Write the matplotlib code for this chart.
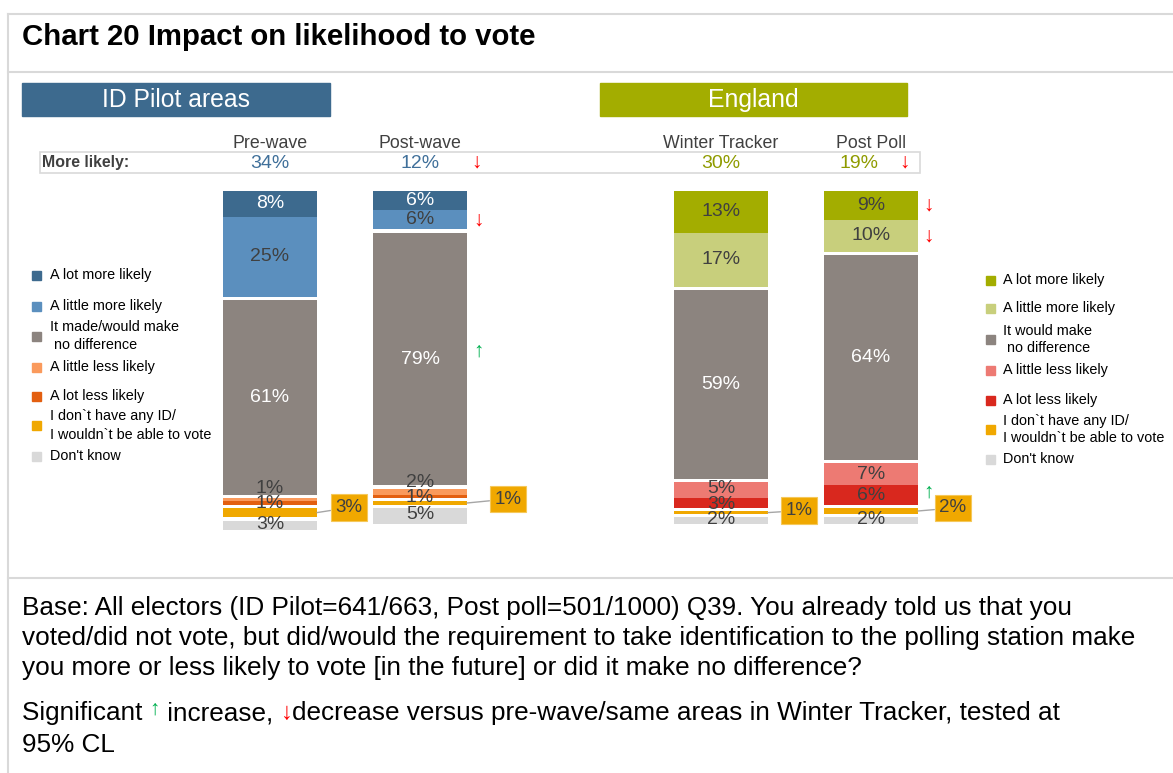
import matplotlib
matplotlib.use('Agg')
import matplotlib.pyplot as plt
from matplotlib.patches import Rectangle
from matplotlib.lines import Line2D

plt.rcParams['font.family'] = ['Liberation Sans', 'DejaVu Sans']

# data
bars = ['Pre-wave', 'Post-wave', 'Winter Tracker', 'Post Poll']
more_likely = ['34%', '12%', '30%', '19%']
a_lot_more = [8, 6, 13, 9]
little_more = [25, 6, 17, 10]
no_diff = [61, 79, 59, 64]
little_less = [1, 2, 5, 7]
a_lot_less = [1, 1, 3, 6]
no_id = [3, 1, 1, 2]
dont_know = [3, 5, 2, 2]

left_labels = ['A lot more likely', 'A little more likely', 'It made/would make\n no difference',
               'A little less likely', 'A lot less likely',
               'I don`t have any ID/\nI wouldn`t be able to vote', "Don't know"]
right_labels = ['A lot more likely', 'A little more likely', 'It would make\n no difference',
                'A little less likely', 'A lot less likely',
                'I don`t have any ID/\nI wouldn`t be able to vote', "Don't know"]

# significance: (bar, segment) -> arrow
sig_marks = {(1, 1): 'down', (1, 2): 'up', (3, 0): 'down', (3, 1): 'down', (3, 4): 'up'}
sig_header = {1: 'down', 3: 'down'}

left_cols = ['#3d6a8e', '#5b8fbe', '#8c847f', '#fa9a5c', '#e35f10', '#f0a800', '#d9d9d9']
right_cols = ['#a3ad00', '#c8cf7c', '#8c847f', '#ed7a73', '#d9281e', '#f0a800', '#d9d9d9']
RED = '#ff0000'
GREEN = '#00b050'
DARK = '#404040'
FRAME = '#d9d9d9'

segments = [a_lot_more, little_more, no_diff, little_less, a_lot_less, no_id, dont_know]
gap_after = [False, True, True, False, True, True, False]

xpos = [270, 420, 721, 871]
bar_w = 94
W, H = 1173, 773

fig = plt.figure(figsize=(W / 100, H / 100), dpi=100)
ov = fig.add_axes([0, 0, 1, 1])
ov.set_xlim(0, W)
ov.set_ylim(H, 0)
ov.axis('off')

# frame lines
for y in [14, 72, 578]:
    ov.add_line(Line2D([8, W], [y, y], color=FRAME, lw=1.5))
ov.add_line(Line2D([8, 8], [14, H], color=FRAME, lw=1.5))

ov.text(22, 37, 'Chart 20 Impact on likelihood to vote', fontsize=21.2, fontweight='bold',
        va='center', ha='left', color='black')

# section headers
ov.add_patch(Rectangle((22, 83), 308, 33, color='#3d6a8e'))
ov.text(176, 100, 'ID Pilot areas', color='white', fontsize=17.8, ha='center', va='center')
ov.add_patch(Rectangle((600, 83), 307, 33, color='#a3ad00'))
ov.text(753, 100, 'England', color='white', fontsize=17.8, ha='center', va='center')

# column headers and "More likely" row
for i, name in enumerate(bars):
    ov.text(xpos[i], 143, name, fontsize=12.8, color=DARK, ha='center', va='center')
ov.add_patch(Rectangle((40, 152), 880, 21, fill=False, edgecolor=FRAME, lw=1.2))
ov.text(42, 163, 'More likely:', fontsize=11.4, fontweight='bold', color=DARK, va='center')
ml_cols = ['#40709a', '#40709a', '#8f9b00', '#8f9b00']
ml_dx = [0, 0, 0, -12]
for i, v in enumerate(more_likely):
    ov.text(xpos[i] + ml_dx[i], 163, v, fontsize=14, color=ml_cols[i], ha='center', va='center')
arrow_hx = {1: 477, 3: 904}
for i, d in sig_header.items():
    ov.text(arrow_hx[i], 162, '↓' if d == 'down' else '↑', fontsize=15,
            color=RED if d == 'down' else GREEN, ha='center', va='center')

# bars
bx = fig.add_axes([0, 1 - (191 + 3.2 * 110) / H, 1, 3.2 * 110 / H])
bx.set_xlim(0, W)
bx.set_ylim(110, 0)
bx.axis('off')

label_nudge = {(0, 3): -3.4, (0, 4): 0.3, (1, 3): -3.0, (1, 4): 0.2,
               (2, 3): -0.6, (2, 4): 0.4,
               (0, 6): -0.4, (1, 6): -0.4, (2, 6): -0.4, (3, 6): -0.3}
white_text = {0, 2}
callout_off = [(32, 5), (41, 4), (31, 2), (35, 3)]

for b in range(len(bars)):
    cols = left_cols if b < 2 else right_cols
    bottom = 0.0
    for s, seg in enumerate(segments):
        v = seg[b]
        bx.bar(xpos[b], v, width=bar_w, bottom=bottom, color=cols[s], linewidth=0)
        cy = bottom + v / 2
        if s == 5:
            bx.annotate(f'{v}%', xy=(xpos[b] + bar_w / 2, cy), xytext=callout_off[b],
                        textcoords='offset pixels', fontsize=13.5, color=DARK,
                        ha='center', va='center',
                        bbox=dict(boxstyle='square,pad=0.25', fc='#f0a800', ec='#f5c85a', lw=0.8),
                        arrowprops=dict(arrowstyle='-', color='#a6a6a6', lw=1,
                                        shrinkA=0, shrinkB=0))
        else:
            tc = 'white' if (s in white_text and b < 2) or (s == 2) else DARK
            if b >= 2 and s == 0:
                tc = DARK
            bx.text(xpos[b], cy + label_nudge.get((b, s), 0), f'{v}%', fontsize=14,
                    color=tc, ha='center', va='center')
        if (b, s) in sig_marks:
            d = sig_marks[(b, s)]
            dy = -2.5 if d == 'up' and s == 2 else (-1 if d == 'up' else 0)
            bx.text(xpos[b] + bar_w / 2 + 11, cy + dy, '↓' if d == 'down' else '↑',
                    fontsize=15, color=RED if d == 'down' else GREEN, ha='center', va='center')
        bottom += v
        if gap_after[s]:
            bottom += 1.0

# legends
left_rows = [275, 306, (327, 345), 367, 396, (416, 435), 456]
right_rows = [280, 308, (331, 348), 370, 400, (421, 438), 459]


def draw_legend(x_sq, x_txt, rows, labels, cols):
    for lab, row, c in zip(labels, rows, cols):
        if isinstance(row, tuple):
            lines = lab.split('\n')
            ysq = (row[0] + row[1]) / 2
            for ln, yy in zip(lines, row):
                ov.text(x_txt, yy, ln, fontsize=10.4, color='black', va='center')
        else:
            ysq = row
            ov.text(x_txt, row, lab, fontsize=10.4, color='black', va='center')
        ov.add_patch(Rectangle((x_sq, ysq - 4.5), 9, 9, color=c))


draw_legend(32, 50, left_rows, left_labels, left_cols)
draw_legend(986, 1003, right_rows, right_labels, right_cols)

# footnotes
FS = 18.8
foot = ['Base: All electors (ID Pilot=641/663, Post poll=501/1000) Q39. You already told us that you',
        'voted/did not vote, but did/would the requirement to take identification to the polling station make',
        'you more or less likely to vote [in the future] or did it make no difference?']
for i, ln in enumerate(foot):
    ov.text(22, 608 + 30 * i, ln, fontsize=FS, color='black', va='center')

fig.canvas.draw()
r = fig.canvas.get_renderer()


def width_of(s, **kw):
    t = ov.text(0, 0, s + '|', **kw)
    t2 = ov.text(0, 0, '|', **kw)
    w = t.get_window_extent(r).width - t2.get_window_extent(r).width
    t.remove()
    t2.remove()
    return w


pieces = [('Significant ', 'black', FS), ('↑', GREEN, 15), (' increase, ', 'black', FS), ('↓', RED, 17),
          ('decrease versus pre-wave/same areas in Winter Tracker, tested at', 'black', FS)]
x = 22
for s, c, fs in pieces:
    kw = dict(fontsize=fs, va='center')
    dy = -4 if s == '↑' else 0
    ov.text(x, 713 + dy, s, color=c, **kw)
    x += width_of(s, **kw)
ov.text(22, 745, '95% CL', fontsize=FS, color='black', va='center')

fig.savefig('out.png', dpi=100)
